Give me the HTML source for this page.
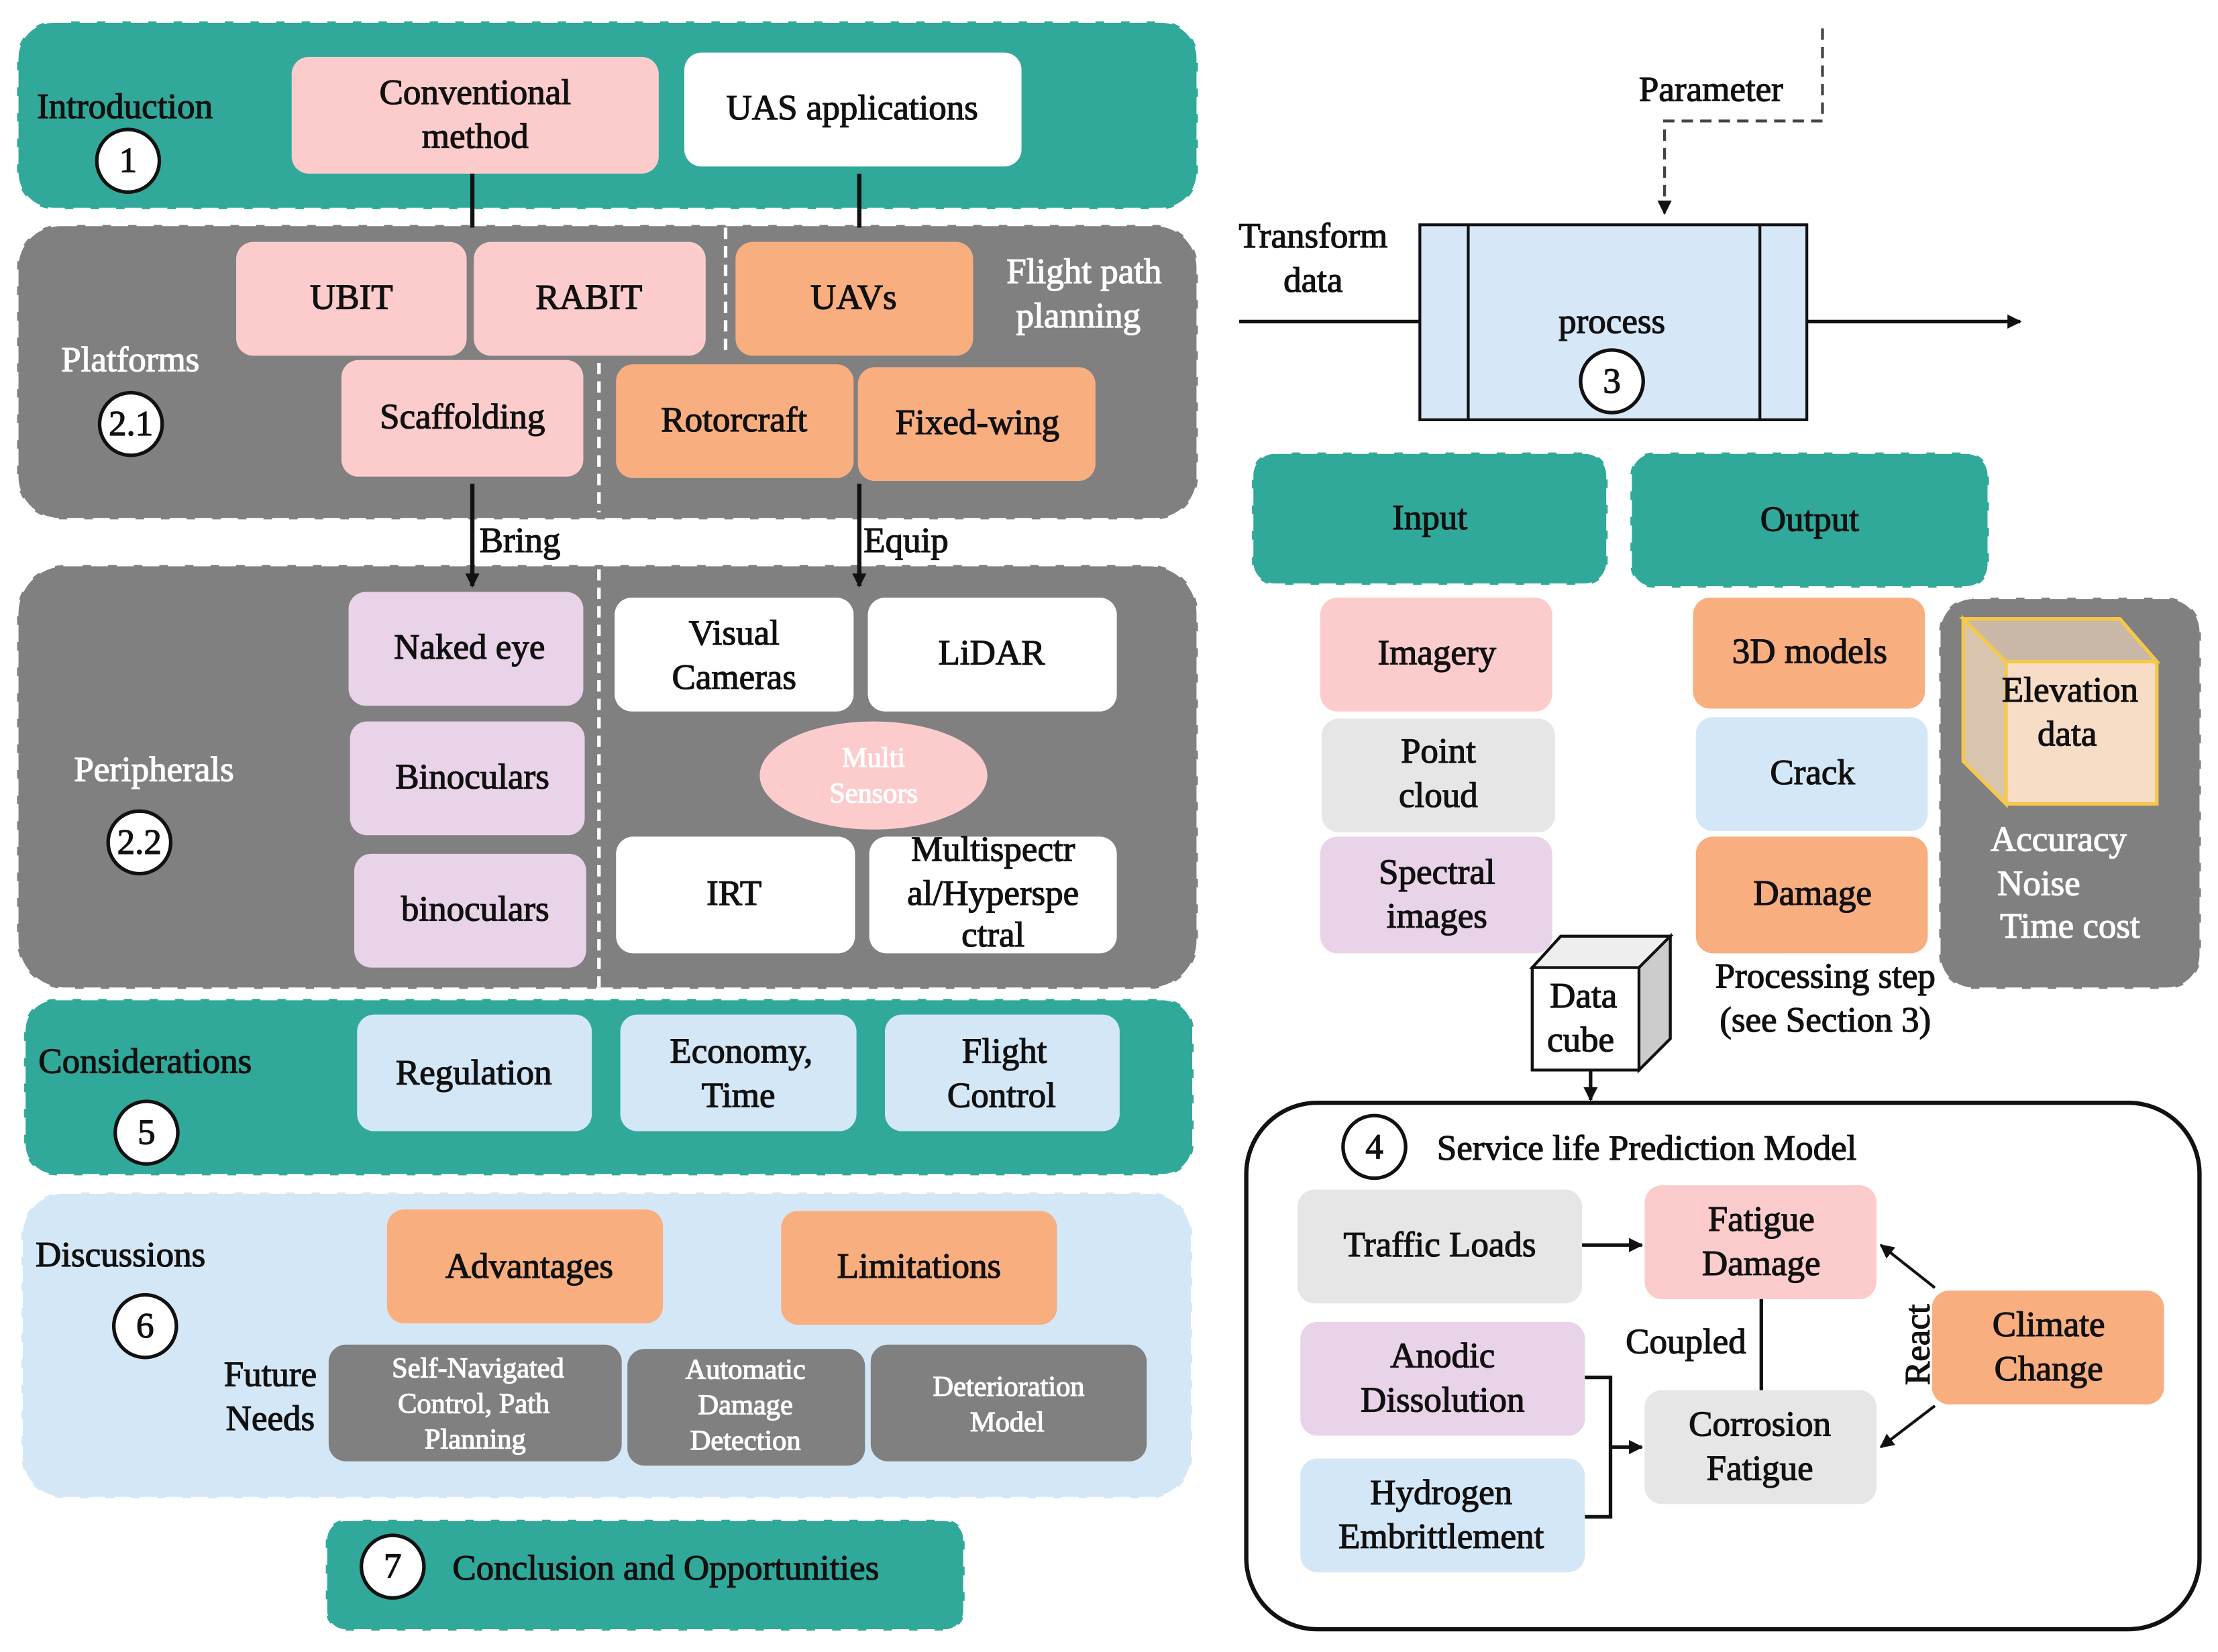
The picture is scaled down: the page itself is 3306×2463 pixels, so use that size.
<!DOCTYPE html>
<html><head><meta charset="utf-8">
<style>
html,body{margin:0;padding:0;background:#fff;}
svg{display:block;}
text{font-family:"Liberation Serif",serif;font-size:25px;fill:#111;stroke:#111;stroke-width:0.6px;text-anchor:middle;}
.l{text-anchor:start;}
.w{fill:#fff;stroke:#fff;}
</style></head><body>
<svg width="3306" height="2463" viewBox="0 0 1559 1161" preserveAspectRatio="none" xmlns="http://www.w3.org/2000/svg">
<defs>
<marker id="a" markerWidth="10" markerHeight="10" refX="9" refY="5" orient="auto" markerUnits="userSpaceOnUse"><path d="M0,0 L10,5 L0,10 z" fill="#111"/></marker>
</defs>
<rect x="12" y="15" width="830" height="132" rx="26" fill="#30a99a" stroke="#fff" stroke-width="2" stroke-dasharray="12,6"/>
<rect x="12" y="158" width="830" height="207" rx="30" fill="#808080" stroke="#fff" stroke-width="2" stroke-dasharray="12,6"/>
<rect x="12" y="397" width="830" height="298" rx="34" fill="#808080" stroke="#fff" stroke-width="2" stroke-dasharray="12,6"/>
<rect x="17" y="702" width="822" height="124" rx="22" fill="#30a99a" stroke="#fff" stroke-width="2" stroke-dasharray="12,6"/>
<rect x="15" y="838" width="823" height="215" rx="30" fill="#d4e7f7" stroke="#fff" stroke-width="2" stroke-dasharray="12,6"/>
<rect x="229" y="1068" width="449" height="78" rx="14" fill="#30a99a" stroke="#fff" stroke-width="2" stroke-dasharray="12,6"/>

<text x="26" y="83" class="l">Introduction</text>
<circle cx="90" cy="113" r="22" fill="#fff" stroke="#111" stroke-width="2.5"/><text x="90" y="121">1</text>
<rect x="205" y="40" width="258" height="82" rx="12" fill="#fccccc"/>
<text x="334" y="73">Conventional</text><text x="334" y="104">method</text>
<rect x="481" y="37" width="237" height="80" rx="12" fill="#fff"/>
<text x="599" y="84">UAS applications</text>
<line x1="332" y1="122" x2="332" y2="160" stroke="#111" stroke-width="3"/>
<line x1="604" y1="122" x2="604" y2="160" stroke="#111" stroke-width="3"/>

<text x="43" y="261" class="l w">Platforms</text>
<circle cx="92" cy="298" r="22" fill="#fff" stroke="#111" stroke-width="2.5"/><text x="92" y="306">2.1</text>
<line x1="510" y1="160" x2="510" y2="250" stroke="#fff" stroke-width="2.5" stroke-dasharray="8,5"/>
<line x1="421" y1="255" x2="421" y2="360" stroke="#fff" stroke-width="2.5" stroke-dasharray="8,5"/>
<rect x="166" y="170" width="162" height="80" rx="12" fill="#fccccc"/><text x="247" y="217">UBIT</text>
<rect x="333" y="170" width="163" height="80" rx="12" fill="#fccccc"/><text x="414" y="217">RABIT</text>
<rect x="517" y="170" width="167" height="80" rx="12" fill="#f9ae80"/><text x="600" y="217">UAVs</text>
<text x="762" y="199" class="w">Flight path</text><text x="758" y="230" class="w">planning</text>
<rect x="240" y="253" width="170" height="82" rx="12" fill="#fccccc"/><text x="325" y="301">Scaffolding</text>
<rect x="433" y="256" width="167" height="80" rx="12" fill="#f9ae80"/><text x="516" y="303">Rotorcraft</text>
<rect x="603" y="258" width="167" height="80" rx="12" fill="#f9ae80"/><text x="687" y="305">Fixed-wing</text>
<line x1="332" y1="340" x2="332" y2="412" stroke="#111" stroke-width="3" marker-end="url(#a)"/>
<line x1="604" y1="340" x2="604" y2="412" stroke="#111" stroke-width="3" marker-end="url(#a)"/>
<text x="337" y="388" class="l">Bring</text><text x="607" y="388" class="l">Equip</text>

<text x="52" y="549" class="l w">Peripherals</text>
<circle cx="98" cy="592" r="22" fill="#fff" stroke="#111" stroke-width="2.5"/><text x="98" y="600">2.2</text>
<line x1="421" y1="400" x2="421" y2="695" stroke="#fff" stroke-width="2.5" stroke-dasharray="8,5"/>
<rect x="245" y="416" width="165" height="80" rx="12" fill="#e8d3e8"/><text x="330" y="463">Naked eye</text>
<rect x="246" y="507" width="165" height="80" rx="12" fill="#e8d3e8"/><text x="332" y="554">Binoculars</text>
<rect x="249" y="600" width="163" height="80" rx="12" fill="#e8d3e8"/><text x="334" y="647">binoculars</text>
<rect x="432" y="420" width="168" height="80" rx="12" fill="#fff"/><text x="516" y="453">Visual</text><text x="516" y="484">Cameras</text>
<rect x="610" y="420" width="175" height="80" rx="12" fill="#fff"/><text x="697" y="467">LiDAR</text>
<ellipse cx="614" cy="545" rx="80" ry="38" fill="#fccccc"/>
<text x="614" y="539" class="w" style="font-size:20px">Multi</text><text x="614" y="564" class="w" style="font-size:20px">Sensors</text>
<rect x="433" y="588" width="168" height="82" rx="12" fill="#fff"/><text x="516" y="636">IRT</text>
<rect x="611" y="588" width="174" height="82" rx="12" fill="#fff"/>
<text x="698" y="605">Multispectr</text><text x="698" y="636">al/Hyperspe</text><text x="698" y="665">ctral</text>

<text x="27" y="754" class="l">Considerations</text>
<circle cx="103" cy="796" r="22" fill="#fff" stroke="#111" stroke-width="2.5"/><text x="103" y="804">5</text>
<rect x="251" y="713" width="165" height="82" rx="12" fill="#d4e7f7"/><text x="333" y="762">Regulation</text>
<rect x="436" y="713" width="166" height="82" rx="12" fill="#d4e7f7"/><text x="521" y="747">Economy,</text><text x="519" y="778">Time</text>
<rect x="622" y="713" width="165" height="82" rx="12" fill="#d4e7f7"/><text x="706" y="747">Flight</text><text x="704" y="778">Control</text>

<text x="25" y="890" class="l">Discussions</text>
<circle cx="102" cy="932" r="22" fill="#fff" stroke="#111" stroke-width="2.5"/><text x="102" y="940">6</text>
<rect x="272" y="850" width="194" height="80" rx="12" fill="#f9ae80"/><text x="372" y="898">Advantages</text>
<rect x="549" y="851" width="194" height="80" rx="12" fill="#f9ae80"/><text x="646" y="898">Limitations</text>
<text x="190" y="974">Future</text><text x="190" y="1005">Needs</text>
<rect x="231" y="945" width="206" height="82" rx="12" fill="#808080"/>
<text x="336" y="968" class="w" style="font-size:20px">Self-Navigated</text><text x="333" y="993" class="w" style="font-size:20px">Control, Path</text><text x="334" y="1018" class="w" style="font-size:20px">Planning</text>
<rect x="441" y="948" width="167" height="82" rx="12" fill="#808080"/>
<text x="524" y="969" class="w" style="font-size:20px">Automatic</text><text x="524" y="994" class="w" style="font-size:20px">Damage</text><text x="524" y="1019" class="w" style="font-size:20px">Detection</text>
<rect x="612" y="945" width="194" height="82" rx="12" fill="#808080"/>
<text x="709" y="981" class="w" style="font-size:20px">Deterioration</text><text x="708" y="1006" class="w" style="font-size:20px">Model</text>

<circle cx="276" cy="1101" r="22" fill="#fff" stroke="#111" stroke-width="2.5"/><text x="276" y="1109">7</text>
<text x="318" y="1110" class="l">Conclusion and Opportunities</text>

<text x="1152" y="71" class="l">Parameter</text>
<path d="M1281,20 V85 H1170 V150" fill="none" stroke="#444" stroke-width="2" stroke-dasharray="8,5" marker-end="url(#a)"/>
<text x="923" y="174">Transform</text><text x="923" y="205">data</text>
<line x1="871" y1="226" x2="998" y2="226" stroke="#111" stroke-width="2.5"/>
<rect x="998" y="158" width="272" height="137" fill="#d6e8f8" stroke="#111" stroke-width="2"/>
<line x1="1032" y1="158" x2="1032" y2="295" stroke="#111" stroke-width="2"/>
<line x1="1237" y1="158" x2="1237" y2="295" stroke="#111" stroke-width="2"/>
<text x="1133" y="234">process</text>
<circle cx="1133" cy="268" r="22" fill="#fff" stroke="#111" stroke-width="2.5"/><text x="1133" y="276">3</text>
<line x1="1270" y1="226" x2="1420" y2="226" stroke="#111" stroke-width="2.5" marker-end="url(#a)"/>

<rect x="880" y="318" width="250" height="93" rx="16" fill="#30a99a" stroke="#fff" stroke-width="2" stroke-dasharray="12,6"/><text x="1005" y="372">Input</text>
<rect x="1146" y="318" width="252" height="95" rx="16" fill="#30a99a" stroke="#fff" stroke-width="2" stroke-dasharray="12,6"/><text x="1272" y="373">Output</text>

<rect x="928" y="420" width="163" height="80" rx="12" fill="#fccccc"/><text x="1010" y="467">Imagery</text>
<rect x="929" y="505" width="164" height="80" rx="12" fill="#e6e6e6"/><text x="1011" y="536">Point</text><text x="1011" y="567">cloud</text>
<rect x="928" y="588" width="163" height="82" rx="12" fill="#e8d3e8"/><text x="1010" y="621">Spectral</text><text x="1010" y="652">images</text>
<rect x="1190" y="420" width="163" height="78" rx="12" fill="#f9ae80"/><text x="1272" y="466">3D models</text>
<rect x="1192" y="504" width="163" height="80" rx="12" fill="#d4e7f7"/><text x="1274" y="551">Crack</text>
<rect x="1192" y="588" width="163" height="82" rx="12" fill="#f9ae80"/><text x="1274" y="636">Damage</text>

<rect x="1363" y="420" width="184" height="275" rx="24" fill="#808080" stroke="#fff" stroke-width="2" stroke-dasharray="12,6"/>
<path d="M1380,435 L1490,435 L1516,465 L1516,565 L1410,565 L1380,535 Z" fill="#f7dcc6" stroke="#f5c84a" stroke-width="2.5"/>
<path d="M1380,435 L1490,435 L1516,465 L1410,465 Z" fill="#c9b8a8" stroke="#f5c84a" stroke-width="2.5"/>
<path d="M1380,435 L1410,465 L1410,565 L1380,535 Z" fill="#d9c4b0" stroke="#f5c84a" stroke-width="2.5"/>
<text x="1455" y="493">Elevation</text><text x="1453" y="524">data</text>
<text x="1447" y="598" class="w">Accuracy</text><text x="1433" y="629" class="w">Noise</text><text x="1455" y="659" class="w">Time cost</text>
<text x="1283" y="694">Processing step</text><text x="1283" y="725">(see Section 3)</text>

<path d="M1077,680 L1097,658 L1174,658 L1174,730 L1152,752 L1077,752 Z" fill="#fff" stroke="#111" stroke-width="2"/>
<path d="M1077,680 L1097,658 L1174,658 L1152,680 Z" fill="#eee" stroke="#111" stroke-width="2"/>
<path d="M1152,680 L1174,658 L1174,730 L1152,752 Z" fill="#ccc" stroke="#111" stroke-width="2"/>
<rect x="1077" y="680" width="75" height="72" fill="#fff" stroke="#111" stroke-width="2"/>
<text x="1113" y="708">Data</text><text x="1111" y="739">cube</text>
<line x1="1118" y1="752" x2="1118" y2="773" stroke="#111" stroke-width="2.5" marker-end="url(#a)"/>

<rect x="876" y="775" width="670" height="370" rx="50" fill="#fff" stroke="#111" stroke-width="3"/>
<circle cx="966" cy="806" r="22" fill="#fff" stroke="#111" stroke-width="2.5"/><text x="966" y="814">4</text>
<text x="1010" y="815" class="l">Service life Prediction Model</text>
<rect x="912" y="836" width="200" height="80" rx="12" fill="#e6e6e6"/><text x="1012" y="883">Traffic Loads</text>
<rect x="1156" y="833" width="163" height="80" rx="12" fill="#fccccc"/><text x="1238" y="865">Fatigue</text><text x="1238" y="896">Damage</text>
<rect x="914" y="929" width="200" height="80" rx="12" fill="#e8d3e8"/><text x="1014" y="961">Anodic</text><text x="1014" y="992">Dissolution</text>
<rect x="1156" y="977" width="163" height="80" rx="12" fill="#e6e6e6"/><text x="1237" y="1009">Corrosion</text><text x="1237" y="1040">Fatigue</text>
<rect x="914" y="1025" width="200" height="80" rx="12" fill="#d4e7f7"/><text x="1013" y="1057">Hydrogen</text><text x="1013" y="1088">Embrittlement</text>
<rect x="1358" y="907" width="163" height="80" rx="12" fill="#f9ae80"/><text x="1440" y="939">Climate</text><text x="1440" y="970">Change</text>
<line x1="1112" y1="875" x2="1154" y2="875" stroke="#111" stroke-width="2.5" marker-end="url(#a)"/>
<line x1="1238" y1="913" x2="1238" y2="977" stroke="#111" stroke-width="2.5"/>
<text x="1185" y="951">Coupled</text>
<path d="M1114,968 H1132 V1066 H1114" fill="none" stroke="#111" stroke-width="2.5"/>
<line x1="1132" y1="1017" x2="1154" y2="1017" stroke="#111" stroke-width="2.5" marker-end="url(#a)"/>
<line x1="1360" y1="905" x2="1322" y2="875" stroke="#111" stroke-width="2" marker-end="url(#a)"/>
<line x1="1360" y1="988" x2="1322" y2="1017" stroke="#111" stroke-width="2" marker-end="url(#a)"/>
<text x="0" y="0" transform="translate(1356,945) rotate(-90)">React</text>
</svg>
</body></html>
